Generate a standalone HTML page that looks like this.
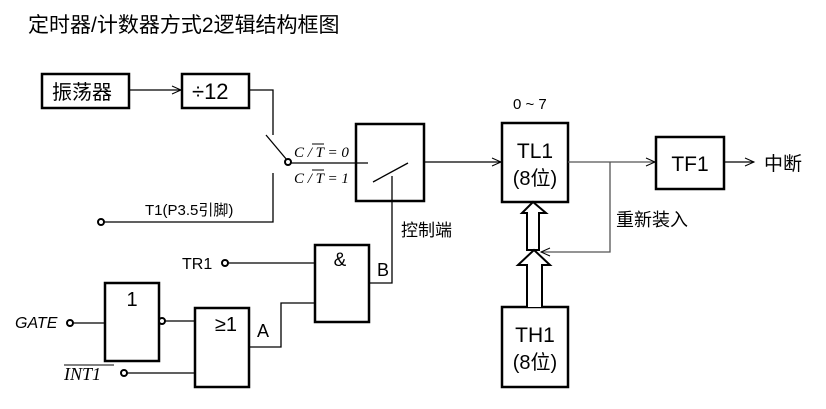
<!DOCTYPE html>
<html><head><meta charset="utf-8"><style>
body{margin:0;background:#fff;}
svg text{font-family:"Liberation Sans","Noto Sans CJK SC",sans-serif;fill:#000;}
.s{font-family:"Liberation Serif",serif;font-style:italic;}
</style></head><body>
<svg width="826" height="404" viewBox="0 0 826 404" xmlns="http://www.w3.org/2000/svg">
<defs><marker id="a" markerWidth="12" markerHeight="10" refX="10" refY="5" orient="auto" markerUnits="userSpaceOnUse"><path d="M1,1 L10,5 L1,9" fill="none" stroke="#000" stroke-width="1"/></marker></defs>
<text x="28" y="32" font-size="21">定时器/计数器方式2逻辑结构框图</text>
<g fill="none" stroke="#000" stroke-width="2.5">
<rect x="42" y="74" width="87" height="34"/>
<rect x="182" y="74" width="67" height="34"/>
<rect x="356" y="124" width="68" height="77"/>
<rect x="502" y="123" width="66" height="79"/>
<rect x="656" y="137" width="68" height="52"/>
<rect x="502" y="307" width="66" height="80"/>
<rect x="105" y="283" width="54" height="78"/>
<rect x="195" y="308" width="54" height="79"/>
<rect x="315" y="245" width="54" height="77"/>
</g>
<g fill="none" stroke="#000" stroke-width="1.3">
<line x1="129" y1="90" x2="181" y2="90" marker-end="url(#a)"/>
<polyline points="249,90 273,90 273,135"/>
<line x1="266" y1="135" x2="287" y2="160"/>
<line x1="291" y1="163" x2="368" y2="163"/>
<polyline points="273,173 273,222 104,222"/>
<line x1="373" y1="182" x2="408" y2="163"/>
<polyline points="392,176 392,283 369,283"/>
<line x1="424" y1="162" x2="501" y2="162" marker-end="url(#a)"/>
<line x1="568" y1="162" x2="655" y2="162" marker-end="url(#a)" stroke="#555"/>
<polyline points="610,162 610,252 541,252" stroke="#555" marker-end="url(#a)"/>
<line x1="724" y1="162" x2="754" y2="162" marker-end="url(#a)"/>
<line x1="73" y1="323" x2="105" y2="323"/>
<line x1="165" y1="321" x2="195" y2="321"/>
<line x1="127" y1="373" x2="195" y2="373"/>
<polyline points="249,347 281,347 281,303 315,303"/>
<line x1="228" y1="263" x2="315" y2="263"/>
</g>
<g fill="#fff" stroke="#000" stroke-width="2">
<path d="M527,250 L527,213 L522,213 L533,202 L546,213 L539,213 L539,250 Z"/>
<path d="M527,307 L527,265 L518,265 L534,250 L550,265 L542,265 L542,307"/>
<circle cx="288" cy="162" r="3"/>
<circle cx="101" cy="222" r="3"/>
<circle cx="70" cy="323" r="3"/>
<circle cx="162" cy="321" r="3"/>
<circle cx="124" cy="373" r="3"/>
<circle cx="225" cy="263" r="3"/>
</g>
<text x="52" y="99" font-size="20">振荡器</text>
<text x="192" y="99" font-size="22">÷12</text>
<text class="s" x="294" y="157" font-size="15">C / T = 0</text>
<text class="s" x="294" y="183" font-size="15">C / T = 1</text>
<line x1="312" y1="144" x2="324" y2="144" stroke="#000"/>
<line x1="312" y1="170" x2="324" y2="170" stroke="#000"/>
<text x="145" y="215" font-size="15">T1(P3.5引脚)</text>
<text x="401" y="236" font-size="17">控制端</text>
<text x="513" y="109" font-size="15">0 ~ 7</text>
<text x="535" y="158" font-size="21" text-anchor="middle">TL1</text>
<text x="535" y="185" font-size="20" text-anchor="middle">(8位)</text>
<text x="690" y="171" font-size="21" text-anchor="middle">TF1</text>
<text x="764" y="170" font-size="19">中断</text>
<text x="616" y="226" font-size="18">重新装入</text>
<text x="535" y="342" font-size="21" text-anchor="middle">TH1</text>
<text x="535" y="369" font-size="20" text-anchor="middle">(8位)</text>
<text x="132" y="306" font-size="20" text-anchor="middle">1</text>
<text x="226" y="331" font-size="20" text-anchor="middle">≥1</text>
<text x="340" y="266" font-size="19" text-anchor="middle">&amp;</text>
<text x="257" y="337" font-size="18">A</text>
<text x="377" y="276" font-size="18">B</text>
<text x="182" y="269" font-size="16">TR1</text>
<text x="15" y="328" font-size="16" font-style="italic">GATE</text>
<text class="s" x="64" y="380" font-size="18">INT1</text>
<line x1="64" y1="365" x2="114" y2="365" stroke="#000"/>
</svg>
</body></html>
